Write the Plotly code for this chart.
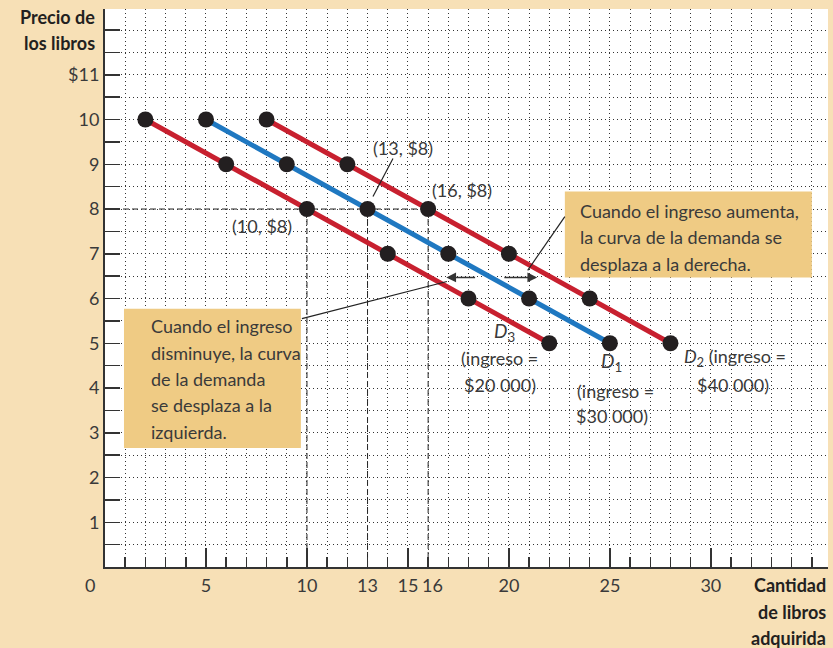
import plotly.graph_objects as go

# ---- data ----
price = [10, 9, 8, 7, 6, 5]
qty_d3 = [2, 6, 10, 14, 18, 22]
qty_d1 = [5, 9, 13, 17, 21, 25]
qty_d2 = [8, 12, 16, 20, 24, 28]
x_major = [5, 10, 15, 20, 25, 30]
x_major_text = ["5", "10", "15", "20", "25", "30"]
x_extra_labels = [13, 16]
y_ticks = [1, 2, 3, 4, 5, 6, 7, 8, 9, 10, 11]
y_ticktext = ["1", "2", "3", "4", "5", "6", "7", "8", "9", "10", "$11"]
ref_qty = [10, 13, 16]
ref_price = 8

RED = "#C8202F"
BLUE = "#1F78C1"
BG = "#F7E0B6"
BOX = "#EFCB84"
TXT = "#3a3a3a"
FONT = "Lato"
GRID = "#333333"
GDASH = "1px,3px"

W, H = 833, 648
L, R, T, B = 105, 5, 9, 81
pw, ph = W - L - R, H - T - B
def px2paper(px, py):
    return (px - L) / pw, (H - B - py) / ph

fig = go.Figure()

for q, c in [(qty_d3, RED), (qty_d1, BLUE), (qty_d2, RED)]:
    fig.add_trace(go.Scatter(
        x=q, y=price, mode="lines+markers",
        line=dict(color=c, width=5),
        marker=dict(color="#231F20", size=16),
        showlegend=False, hoverinfo="skip"))

shapes = []
shapes.append(dict(type="line", x0=0, x1=max(ref_qty), y0=ref_price, y1=ref_price,
                   line=dict(color="#222", width=1, dash="6px,3px"), layer="below"))
for q in ref_qty:
    shapes.append(dict(type="line", x0=q, x1=q, y0=0, y1=ref_price,
                       line=dict(color="#222", width=1, dash="6px,3px"), layer="below"))
shapes.append(dict(type="rect", x0=22.77, x1=35.0, y0=6.47, y1=8.39,
                   fillcolor=BOX, line=dict(width=0), layer="above"))
shapes.append(dict(type="rect", x0=0.94, x1=9.7, y0=2.66, y1=5.77,
                   fillcolor=BOX, line=dict(width=0), layer="above"))
shapes.append(dict(type="line", x0=20.93, y0=6.63, x1=22.77, y1=7.83,
                   line=dict(color="#222", width=1.2), layer="above"))
shapes.append(dict(type="line", x0=9.75, y0=5.55, x1=16.93, y1=6.38,
                   line=dict(color="#222", width=1.2), layer="above"))
shapes.append(dict(type="line", x0=13.27, y0=8.28, x1=14.26, y1=9.13,
                   line=dict(color="#222", width=1.2), layer="above"))

ann = []
def txt(x, y, s, size=18, xanchor="center", color=TXT):
    ann.append(dict(x=x, y=y, xref="x", yref="y", text=s,
                    showarrow=False, xanchor=xanchor, yanchor="middle",
                    font=dict(family=FONT, size=size, color=color)))

txt(14.75, 9.37, "(13, $8)")
txt(17.67, 8.43, "(16, $8)")
txt(7.77, 7.63, "(10, $8)")

for i, line in enumerate(["Cuando el ingreso aumenta,", "la curva de la demanda se", "desplaza a la derecha."]):
    txt(23.4, 7.95 - i * 0.585, line, xanchor="left")
for i, line in enumerate(["Cuando el ingreso", "disminuye, la curva", "de la demanda", "se desplaza a la", "izquierda."]):
    txt(2.18, 5.38 - i * 0.59, line, xanchor="left")

txt(19.8, 5.26, "<i>D</i><sub>3</sub>", size=19)
txt(19.55, 4.68, "(ingreso =")
txt(19.55, 4.07, "$20 000)")
txt(25.1, 4.59, "<i>D</i><sub>1</sub>", size=19)
txt(25.3, 3.94, "(ingreso =")
txt(25.1, 3.38, "$30 000)")
txt(31.2, 4.68, "<i>D</i><sub>2</sub> (ingreso =")
txt(31.1, 4.07, "$40 000)")

ann.append(dict(x=16.9, y=6.47, ax=18.4, ay=6.47, xref="x", yref="y", axref="x", ayref="y",
                text="", showarrow=True, arrowhead=2, arrowsize=1.3, arrowwidth=1.5, arrowcolor="#333"))
ann.append(dict(x=21.4, y=6.47, ax=19.7, ay=6.47, xref="x", yref="y", axref="x", ayref="y",
                text="", showarrow=True, arrowhead=2, arrowsize=1.3, arrowwidth=1.5, arrowcolor="#333"))

for v, dx in zip(x_extra_labels, [0, 4]):
    ann.append(dict(x=v, y=0, xref="x", yref="y", yshift=-18, xshift=dx, text=str(v), showarrow=False,
                    xanchor="center", yanchor="middle",
                    font=dict(family=FONT, size=18, color=TXT)))
xx, yy = px2paper(90, 585)
ann.append(dict(x=xx, y=yy, xref="paper", yref="paper", text="0", showarrow=False,
                xanchor="center", yanchor="middle",
                font=dict(family=FONT, size=18, color=TXT)))

for i, s in enumerate(["Precio de", "los libros"]):
    xx, yy = px2paper(97, 17 + i * 26)
    ann.append(dict(x=xx, y=yy, xref="paper", yref="paper", text="<b>%s</b>" % s, showarrow=False,
                    xanchor="right", yanchor="middle", font=dict(family=FONT, size=18, color="#231F20")))
for i, s in enumerate(["Cantidad", "de libros", "adquirida"]):
    xx, yy = px2paper(828, 585 + i * 26.5)
    ann.append(dict(x=xx, y=yy, xref="paper", yref="paper", text="<b>%s</b>" % s, showarrow=False,
                    xanchor="right", yanchor="middle", font=dict(family=FONT, size=18, color="#231F20")))

fig.update_layout(
    width=W, height=H,
    margin=dict(l=L, r=R, t=T, b=B),
    paper_bgcolor=BG, plot_bgcolor="white",
    shapes=shapes, annotations=ann,
    font=dict(family=FONT, size=18, color=TXT),
    xaxis=dict(range=[0, 35.8], tickvals=x_major, ticktext=x_major_text,
               ticks="inside", ticklen=19, tickcolor="#333", tickwidth=1.5,
               showline=True, linecolor="#333", linewidth=2,
               showgrid=False, zeroline=False, ticklabelstandoff=1,
               minor=dict(dtick=1, tick0=0, ticks="inside", ticklen=10, tickcolor="#333",
                          showgrid=True, gridcolor=GRID, griddash=GDASH, gridwidth=1),
               tickfont=dict(family=FONT, size=18, color=TXT), fixedrange=True),
    yaxis=dict(range=[0, 12.47], tickvals=y_ticks, ticktext=y_ticktext,
               ticks="inside", ticklen=15, tickcolor="#333", tickwidth=1.5,
               showline=True, linecolor="#333", linewidth=2,
               showgrid=True, gridcolor=GRID, griddash=GDASH, gridwidth=1,
               zeroline=False,
               minor=dict(dtick=0.5, tick0=0, ticks="inside", ticklen=15, tickcolor="#333",
                          showgrid=True, gridcolor=GRID, griddash=GDASH, gridwidth=1),
               tickfont=dict(family=FONT, size=18, color=TXT), fixedrange=True),
)

fig.write_html("out.html", config={"displayModeBar": False, "staticPlot": True},
               post_script="document.body.style.margin='0';document.body.style.padding='0';")
